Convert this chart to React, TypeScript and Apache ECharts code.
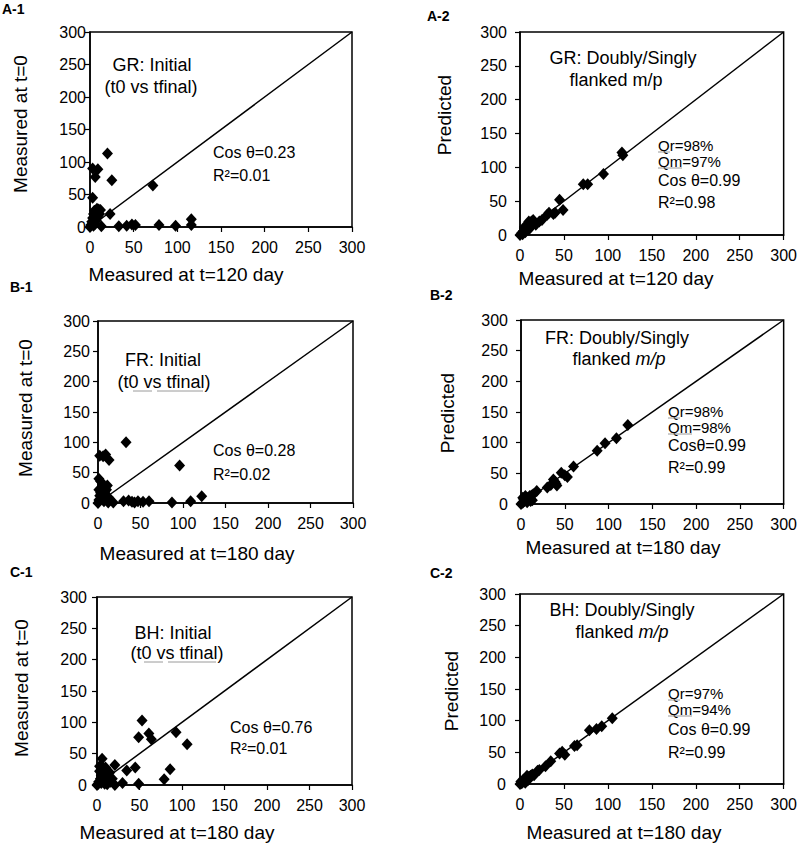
import React, { useEffect, useRef } from "react";
import * as echarts from "echarts";

// ---- Data ----
const axisMin = 0;
const axisMax = 300;
const axisStep = 50;
const diagonal = [[0, 0], [300, 300]];

const grInitial = [
  [0, 0], [1, 3], [2, 8], [3, 14], [4, 20], [5, 25], [6, 18], [7, 10], [8, 28], [10, 27],
  [12, 26], [4, 2], [6, 5], [9, 15], [11, 20], [13, 1], [3, 45], [6, 77], [3, 90], [9, 89],
  [20, 113], [25, 72], [23, 20], [72, 64], [33, 1], [42, 2], [48, 4], [52, 3], [79, 3],
  [98, 2], [116, 3], [116, 12],
];
const grPredicted = [
  [0, 0], [2, 3], [3, 1], [4, 6], [5, 10], [5, 12], [6, 4], [8, 12], [10, 8], [12, 12],
  [10, 20], [13, 20], [15, 22], [14, 15], [18, 15], [22, 20], [25, 22], [31, 30], [33, 33],
  [38, 31], [40, 33], [45, 52], [49, 37], [72, 75], [77, 75], [95, 90], [116, 122], [117, 118],
];
const frInitial = [
  [0, 0], [1, 5], [2, 12], [1, 22], [3, 17], [4, 8], [5, 25], [6, 30], [8, 18], [10, 22],
  [11, 29], [12, 10], [7, 3], [14, 5], [1, 40], [3, 36], [2, 78], [6, 77], [9, 80], [13, 71],
  [33, 100], [96, 62], [122, 11], [109, 3], [87, 1], [18, 1], [30, 3], [36, 4], [40, 2],
  [43, 1], [47, 3], [53, 2], [60, 3], [12, 1],
];
const frPredicted = [
  [0, 0], [2, 2], [4, 5], [6, 8], [5, 13], [8, 10], [10, 13], [3, 8], [7, 3], [11, 5],
  [2, 10], [13, 6], [12, 14], [14, 16], [18, 21], [30, 27], [34, 31], [41, 30], [40, 33],
  [39, 36], [37, 40], [46, 51], [50, 47], [53, 44], [60, 61], [87, 87], [96, 99], [109, 107],
  [122, 129],
];
const bhInitial = [
  [0, 0], [1, 1], [2, 5], [4, 10], [5, 15], [6, 20], [8, 25], [10, 28], [3, 22], [12, 18],
  [14, 12], [8, 5], [10, 10], [6, 30], [3, 30], [15, 20], [12, 8], [16, 5], [18, 10], [5, 3],
  [9, 2], [12, 1], [6, 42], [21, 32], [21, 0], [30, 3], [35, 23], [45, 28], [49, 2], [49, 76],
  [53, 103], [61, 82], [64, 73], [79, 9], [86, 25], [93, 84], [106, 65],
];
const bhPredicted = [
  [0, 0], [2, 1], [3, 3], [5, 5], [6, 2], [1, 4], [7, 8], [4, 7], [9, 6], [11, 11], [12, 13],
  [8, 13], [10, 11], [14, 15], [16, 14], [20, 21], [22, 22], [29, 28], [35, 36], [45, 48],
  [48, 51], [51, 46], [62, 60], [65, 61], [79, 85], [87, 87], [93, 91], [105, 104],
];

const FONT = '"Liberation Sans", Arial, Helvetica, sans-serif';

const panels = [
  { data: grInitial, grid: { left: 90, top: 32, width: 262, height: 195 }, yMargin: 4 },
  { data: grPredicted, grid: { left: 520, top: 32, width: 265, height: 203 }, yMargin: 13 },
  { data: frInitial, grid: { left: 98, top: 321, width: 255, height: 182 }, yMargin: 8 },
  { data: frPredicted, grid: { left: 521, top: 320, width: 263, height: 184 }, yMargin: 13 },
  { data: bhInitial, grid: { left: 97, top: 597, width: 255, height: 188 }, yMargin: 10 },
  { data: bhPredicted, grid: { left: 520, top: 594, width: 265, height: 190 }, yMargin: 14 },
];

function txt(x: number, y: number, text: string, size: number, align = "left", extra: any = {}) {
  return {
    type: "text",
    x,
    y,
    silent: true,
    style: {
      text,
      fill: "#000",
      fontSize: size,
      fontFamily: FONT,
      fontWeight: extra.bold ? "bold" : "normal",
      align,
      verticalAlign: "middle",
      textAlign: align,
      textVerticalAlign: "middle",
    },
  };
}

function vtxt(x: number, y: number, text: string, size: number) {
  return {
    type: "text",
    x,
    y,
    rotation: Math.PI / 2,
    silent: true,
    style: {
      text,
      fill: "#000",
      fontSize: size,
      fontFamily: FONT,
      align: "center",
      verticalAlign: "middle",
      textAlign: "center",
      textVerticalAlign: "middle",
    },
  };
}

function uline(x1: number, x2: number, y: number) {
  return {
    type: "line",
    silent: true,
    shape: { x1, y1: y, x2, y2: y },
    style: { stroke: "#9a9a9a", lineWidth: 1 },
  };
}

function italicMP(x: number, y: number) {
  return {
    type: "text",
    x,
    y,
    silent: true,
    style: {
      text: "{n|flanked }{i|m/p}",
      fill: "#000",
      align: "center",
      verticalAlign: "middle",
      textAlign: "center",
      textVerticalAlign: "middle",
      rich: {
        n: { fontSize: 18, fontFamily: FONT, fill: "#000" },
        i: { fontSize: 18, fontFamily: FONT, fontStyle: "italic", fill: "#000" },
      },
    },
  };
}

export default function App() {
  const ref = useRef<HTMLDivElement>(null);

  useEffect(() => {
    if (!ref.current) return;
    const chart = echarts.init(ref.current, undefined, { renderer: "svg" });

    const grids = panels.map((p) => ({
      ...p.grid,
      show: true,
      borderColor: "#000",
      borderWidth: 1.5,
      backgroundColor: "transparent",
      containLabel: false,
    }));

    const baseAxis = {
      type: "value",
      min: axisMin,
      max: axisMax,
      interval: axisStep,
      splitLine: { show: false },
      axisLine: { show: true, onZero: false, lineStyle: { color: "#000", width: 1.5 } },
      axisTick: { show: true, inside: false, length: 5, lineStyle: { color: "#000", width: 1.2 } },
    };

    const xAxis = panels.map((p, i) => ({
      ...baseAxis,
      gridIndex: i,
      axisLabel: { color: "#000", fontSize: 16, fontFamily: FONT, margin: 12 },
    }));
    const yAxis = panels.map((p, i) => ({
      ...baseAxis,
      gridIndex: i,
      axisLabel: { color: "#000", fontSize: 16, fontFamily: FONT, margin: p.yMargin },
    }));

    const series: any[] = [];
    panels.forEach((p, i) => {
      series.push({
        type: "line",
        xAxisIndex: i,
        yAxisIndex: i,
        data: diagonal,
        symbol: "none",
        silent: true,
        lineStyle: { color: "#000", width: 1.5 },
      });
      series.push({
        type: "scatter",
        xAxisIndex: i,
        yAxisIndex: i,
        data: p.data,
        symbol: "diamond",
        symbolSize: [11, 12],
        clip: false,
        itemStyle: { color: "#000", opacity: 1 },
      });
    });

    const graphic: any[] = [
      // panel labels
      txt(2, 9, "A-1", 14, "left", { bold: true }),
      txt(427, 16, "A-2", 14, "left", { bold: true }),
      txt(10, 287, "B-1", 14, "left", { bold: true }),
      txt(430, 295, "B-2", 14, "left", { bold: true }),
      txt(10, 572, "C-1", 14, "left", { bold: true }),
      txt(430, 573, "C-2", 14, "left", { bold: true }),

      // axis names
      txt(186, 274, "Measured at t=120 day", 19, "center"),
      txt(616, 278, "Measured at t=120 day", 19, "center"),
      txt(197, 553, "Measured at t=180 day", 19, "center"),
      txt(623, 547, "Measured at t=180 day", 19, "center"),
      txt(177, 832, "Measured at t=180 day", 19, "center"),
      txt(624, 832, "Measured at t=180 day", 19, "center"),
      vtxt(20, 124, "Measured at t=0", 19),
      vtxt(25, 408, "Measured at t=0", 19),
      vtxt(21, 688, "Measured at t=0", 19),
      vtxt(444, 115, "Predicted", 19),
      vtxt(447, 413, "Predicted", 19),
      vtxt(451, 691, "Predicted", 19),

      // A-1
      txt(152, 65, "GR: Initial", 18, "center"),
      txt(151, 87, "(t0 vs tfinal)", 18, "center"),
      txt(213, 152, "Cos θ=0.23", 16),
      txt(213, 175, "R²=0.01", 16),
      // A-2
      txt(658, 145, "Qr=98%", 15),
      txt(658, 161, "Qm=97%", 15),
      txt(623, 58, "GR: Doubly/Singly", 18, "center"),
      txt(616, 80, "flanked m/p", 18, "center"),
      txt(658, 180, "Cos θ=0.99", 16),
      txt(658, 202, "R²=0.98", 16),
      uline(658, 670, 152),
      uline(658, 682, 168),
      // B-1
      txt(163, 360, "FR: Initial", 18, "center"),
      txt(164, 382, "(t0 vs tfinal)", 18, "center"),
      txt(213, 450, "Cos θ=0.28", 16),
      txt(213, 474, "R²=0.02", 16),
      uline(133, 152, 391),
      uline(157, 203, 391),
      // B-2
      txt(617, 338, "FR: Doubly/Singly", 18, "center"),
      italicMP(619, 359),
      txt(668, 411, "Qr=98%", 15),
      txt(668, 427, "Qm=98%", 15),
      txt(668, 445, "Cosθ=0.99", 16),
      txt(668, 467, "R²=0.99", 16),
      uline(668, 680, 418),
      uline(668, 692, 434),
      // C-1
      txt(173, 633, "BH: Initial", 18, "center"),
      txt(177, 653, "(t0 vs tfinal)", 18, "center"),
      txt(230, 727, "Cos θ=0.76", 16),
      txt(230, 748, "R²=0.01", 16),
      uline(144, 163, 662),
      uline(168, 216, 662),
      // C-2
      txt(622, 610, "BH: Doubly/Singly", 18, "center"),
      italicMP(622, 632),
      txt(668, 693, "Qr=97%", 15),
      txt(668, 709, "Qm=94%", 15),
      txt(668, 729, "Cos θ=0.99", 16),
      txt(668, 752, "R²=0.99", 16),
      uline(668, 680, 700),
      uline(668, 692, 716),
    ];

    chart.setOption({
      animation: false,
      backgroundColor: "#fff",
      textStyle: { fontFamily: FONT },
      grid: grids,
      xAxis,
      yAxis,
      series,
      graphic,
    });

    return () => chart.dispose();
  }, []);

  return (
    <div
      ref={ref}
      style={{ position: "absolute", left: 0, top: 0, width: 800, height: 845, background: "#fff" }}
    />
  );
}
